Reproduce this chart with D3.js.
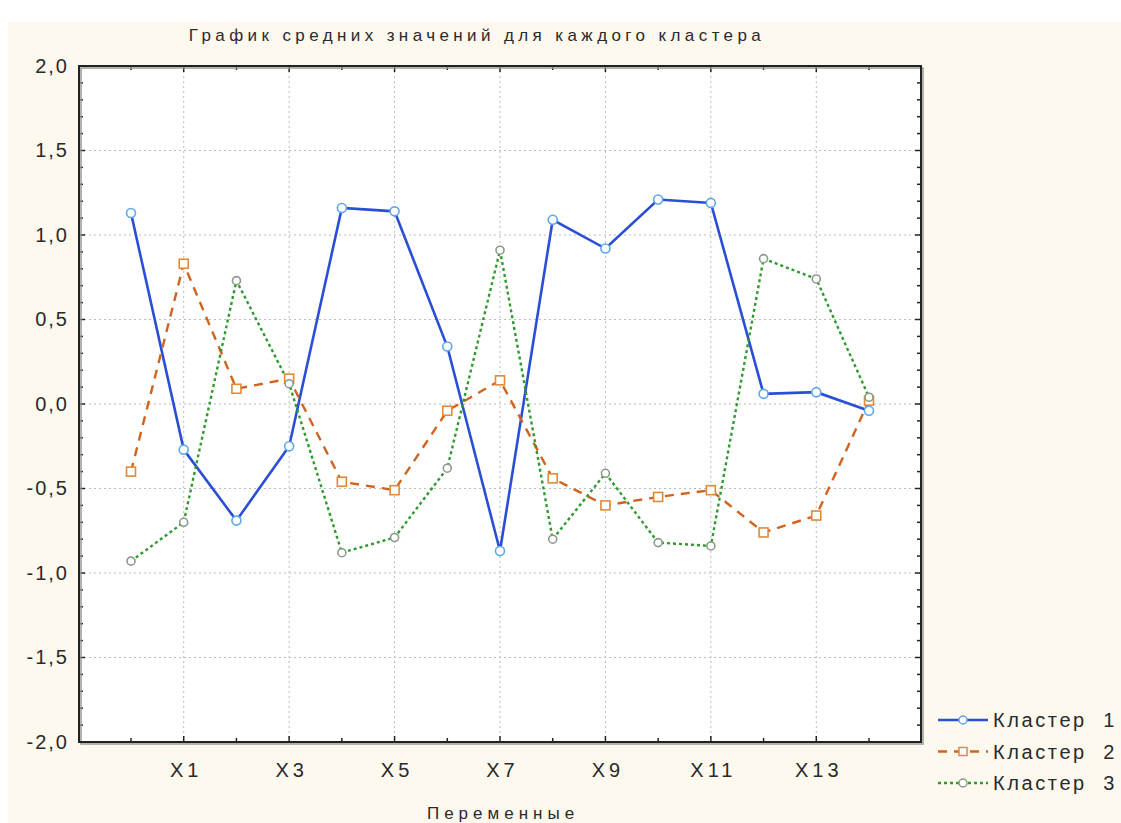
<!DOCTYPE html>
<html><head><meta charset="utf-8">
<script src="https://cdn.jsdelivr.net/npm/d3@7"></script>
<style>body{margin:0;background:#fff}svg{display:block}text{font-family:"Liberation Sans",Arial,sans-serif}</style>
</head><body><svg id="c" width="1121" height="823"></svg>
<script>
const categories = ["X0","X1","X2","X3","X4","X5","X6","X7","X8","X9","X10","X11","X12","X13","X14"];
const tickLabels = ["X1","X3","X5","X7","X9","X11","X13"];
const yTicks = [2.0,1.5,1.0,0.5,0.0,-0.5,-1.0,-1.5,-2.0];
const seriesNames = ["Кластер  1","Кластер  2","Кластер  3"];
const cluster1 = [1.13,-0.27,-0.69,-0.25,1.16,1.14,0.34,-0.87,1.09,0.92,1.21,1.19,0.06,0.07,-0.04];
const cluster2 = [-0.40,0.83,0.09,0.15,-0.46,-0.51,-0.04,0.14,-0.44,-0.60,-0.55,-0.51,-0.76,-0.66,0.02];
const cluster3 = [-0.93,-0.70,0.73,0.12,-0.88,-0.79,-0.38,0.91,-0.80,-0.41,-0.82,-0.84,0.86,0.74,0.04];

const svg = d3.select("#c");
const L=79,R=921,T=66,B=742;
svg.append("rect").attr("x",8).attr("y",22).attr("width",1113).attr("height",801).attr("fill","#fdf9ef");
svg.append("rect").attr("x",L).attr("y",T).attr("width",R-L).attr("height",B-T).attr("fill","#fff");

const x = d3.scalePoint().domain(categories).range([131,869]);
const y = d3.scaleLinear().domain([-2,2]).range([B,T]);

// grid
const g = svg.append("g");
g.selectAll(".hg").data(yTicks.slice(1,-1)).join("line")
 .attr("x1",L).attr("x2",R).attr("y1",d=>y(d)).attr("y2",d=>y(d))
 .attr("stroke","#bbb").attr("stroke-width",1).attr("stroke-dasharray","2,3");
g.selectAll(".vg").data(tickLabels).join("line")
 .attr("x1",d=>x(d)).attr("x2",d=>x(d)).attr("y1",T).attr("y2",B)
 .attr("stroke","#bbb").attr("stroke-width",1).attr("stroke-dasharray","2,3");

// y axis
const yAxis = d3.axisLeft(y).tickValues(yTicks).tickFormat(d=>d3.format(".1f")(d).replace(".",",").replace("−","-")).tickSize(0).tickPadding(12);
const ya = svg.append("g").attr("transform",`translate(${L+2},0)`).call(yAxis);
ya.select(".domain").remove();
ya.selectAll("text").attr("font-size",20).attr("letter-spacing",2).attr("fill","#2a2a2a");
// minor ticks inside left and right
const minor = d3.range(-20,21).map(i=>i/10);
svg.append("g").selectAll("line").data(minor).join("line")
 .attr("x1",L).attr("x2",d=>L+(Math.abs(d*2-Math.round(d*2))<1e-6?6:4)).attr("y1",d=>y(d)).attr("y2",d=>y(d))
 .attr("stroke","#222").attr("stroke-width",1.5);
svg.append("g").selectAll("line").data(minor).join("line")
 .attr("x1",R).attr("x2",d=>R-(Math.abs(d*2-Math.round(d*2))<1e-6?6:4)).attr("y1",d=>y(d)).attr("y2",d=>y(d))
 .attr("stroke","#222").attr("stroke-width",1.5);

// x axis
const xAxis = d3.axisBottom(x).tickValues(tickLabels).tickSize(0).tickPadding(21);
const xa = svg.append("g").attr("transform",`translate(2,${B})`).call(xAxis);
xa.select(".domain").remove();
xa.selectAll("text").attr("font-size",20).attr("letter-spacing",4).attr("fill","#2a2a2a");
svg.append("g").selectAll("line").data(categories).join("line")
 .attr("x1",d=>x(d)).attr("x2",d=>x(d)).attr("y1",B).attr("y2",(d,i)=>B-(i%2?6:4))
 .attr("stroke","#222").attr("stroke-width",1.5);
svg.append("g").selectAll("line").data(categories).join("line")
 .attr("x1",d=>x(d)).attr("x2",d=>x(d)).attr("y1",T).attr("y2",(d,i)=>T+(i%2?6:4))
 .attr("stroke","#222").attr("stroke-width",1.5);

// frame
svg.append("rect").attr("x",L+2).attr("y",T+2).attr("width",R-L).attr("height",B-T).attr("fill","none").attr("stroke","#999").attr("stroke-width",1.5);
svg.append("rect").attr("x",L).attr("y",T).attr("width",R-L).attr("height",B-T).attr("fill","none").attr("stroke","#222").attr("stroke-width",2);

// series
const styles = [
 {data:cluster1,color:"#2a4fd6",dash:null,w:2.6,shape:"circle",mstroke:"#5fa8e8"},
 {data:cluster2,color:"#d0641e",dash:"9,7",w:2.4,shape:"square",mstroke:"#e08a3a"},
 {data:cluster3,color:"#2e9a2e",dash:"3,3",w:2.4,shape:"circle",mstroke:"#8a9a8a"}
];
const line = d3.line().x((d,i)=>x(categories[i])).y(d=>y(d));
styles.forEach((s,k)=>{
  svg.append("path").datum(s.data).attr("d",line).attr("fill","none")
   .attr("stroke",s.color).attr("stroke-width",s.w).attr("stroke-dasharray",s.dash);
});
styles.forEach((s,k)=>{
  const mg = svg.append("g");
  if(s.shape==="circle"){
    mg.selectAll("circle").data(s.data).join("circle")
     .attr("cx",(d,i)=>x(categories[i])).attr("cy",d=>y(d)).attr("r",k===2?4:4.5)
     .attr("fill","#fff").attr("stroke",s.mstroke).attr("stroke-width",1.6);
  } else {
    mg.selectAll("rect").data(s.data).join("rect")
     .attr("x",(d,i)=>x(categories[i])-4.5).attr("y",d=>y(d)-4.5).attr("width",9).attr("height",9)
     .attr("fill","#fff").attr("stroke",s.mstroke).attr("stroke-width",1.6);
  }
});

// title & axis label
svg.append("text").attr("x",477).attr("y",41).attr("text-anchor","middle").attr("font-size",17).attr("letter-spacing",4.4).attr("fill","#2a2a2a").text("График средних значений для каждого кластера");
svg.append("text").attr("x",503).attr("y",819).attr("text-anchor","middle").attr("font-size",17).attr("letter-spacing",5).attr("fill","#2a2a2a").text("Переменные");

// legend
const lg = svg.append("g");
styles.forEach((s,k)=>{
  const yy = 720 + k*31.5;
  lg.append("line").attr("x1",938).attr("x2",988).attr("y1",yy).attr("y2",yy)
    .attr("stroke",s.color).attr("stroke-width",s.w).attr("stroke-dasharray",s.dash);
  if(s.shape==="circle") lg.append("circle").attr("cx",963).attr("cy",yy).attr("r",4).attr("fill","#fff").attr("stroke",s.mstroke).attr("stroke-width",1.5);
  else lg.append("rect").attr("x",959).attr("y",yy-4).attr("width",8).attr("height",8).attr("fill","#fff").attr("stroke",s.mstroke).attr("stroke-width",1.5);
  lg.append("text").attr("x",993).attr("y",yy+7).attr("font-size",20).attr("letter-spacing",2.6).attr("fill","#2a2a2a").attr("xml:space","preserve").text(seriesNames[k]);
});
</script></body></html>
